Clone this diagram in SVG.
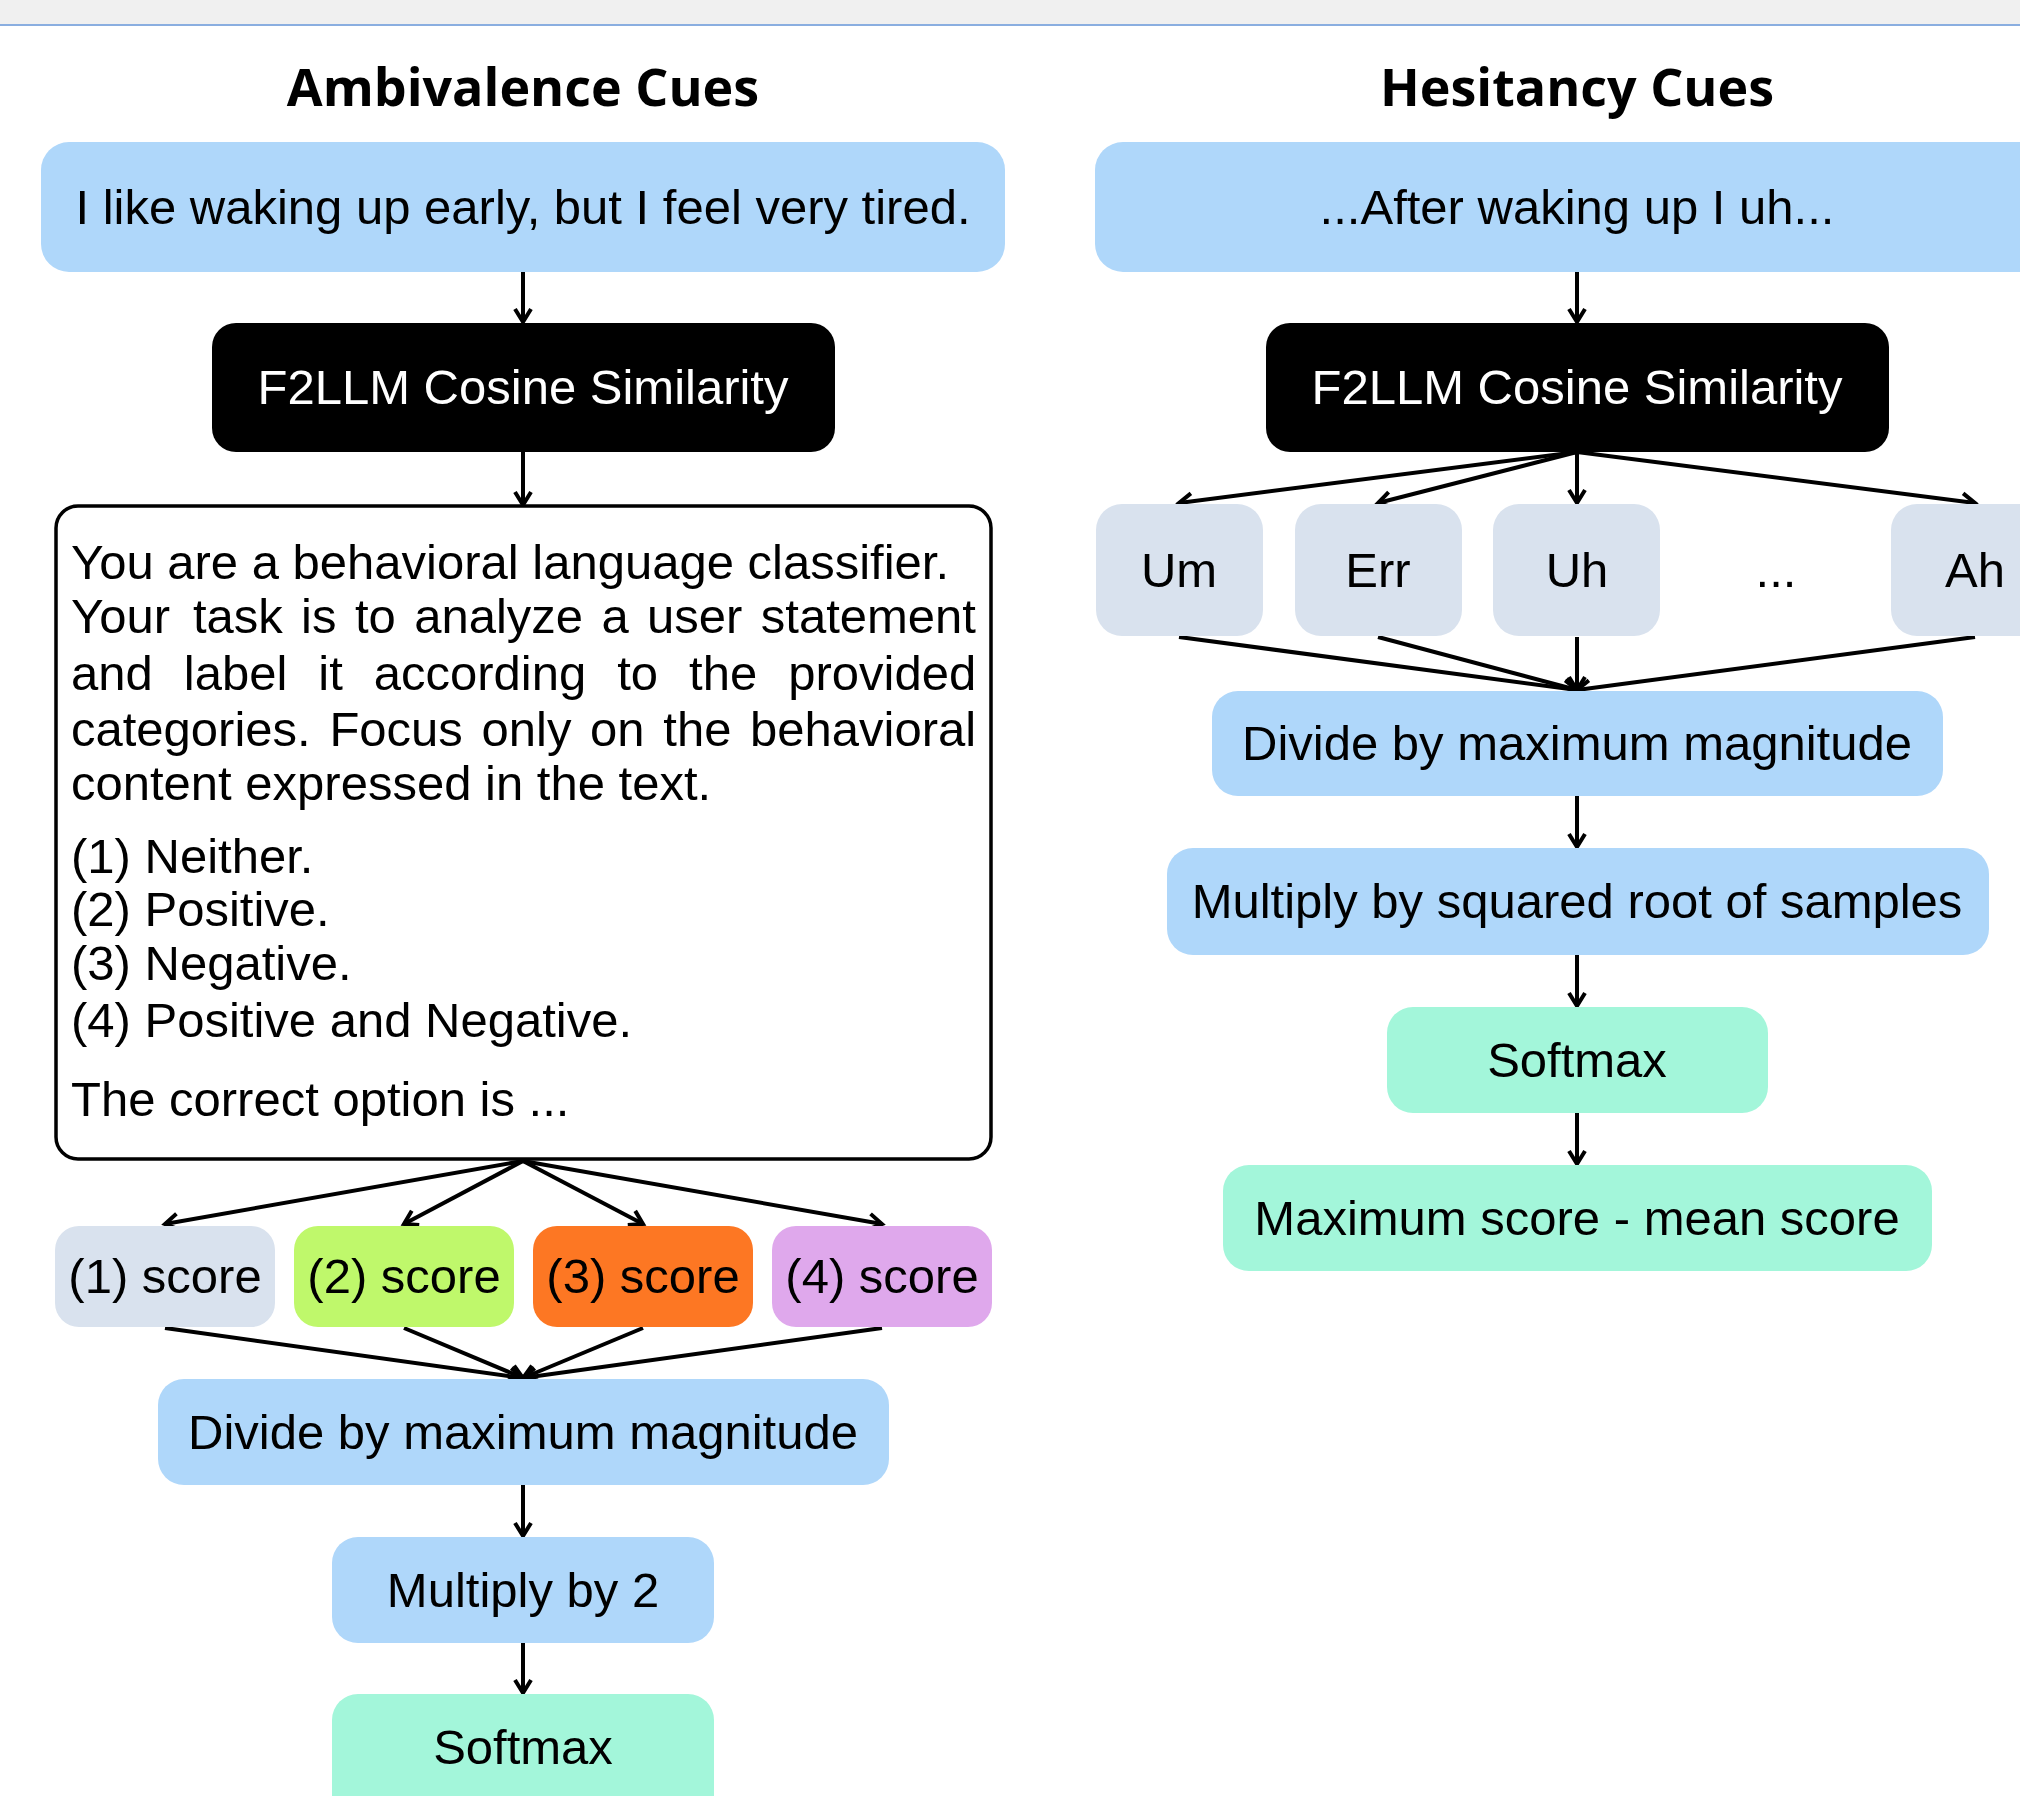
<svg xmlns="http://www.w3.org/2000/svg" width="2020" height="1796" viewBox="0 0 2020 1796">
<defs>
<style>
.t{font-family:"Liberation Sans",Arial,sans-serif;font-size:49px;fill:#000}
.c{text-anchor:middle}
.w{fill:#fff}
.h{font-family:"Open Sans","Noto Sans",sans-serif;font-weight:700;font-size:52px;text-anchor:middle;fill:#000}
.blue{fill:#afd7fa}
.gray{fill:#d9e2ee}
.mint{fill:#a3f6da}
.blk{fill:#000}
.edge{stroke:#000;stroke-width:4;fill:none}
</style>
<marker id="ah" viewBox="-18 -12 24 24" refX="0" refY="0" markerWidth="24" markerHeight="24" markerUnits="userSpaceOnUse" orient="auto">
<path d="M-13,-8 L0,0 L-13,8" fill="none" stroke="#000" stroke-width="4"/>
</marker>
</defs>
<rect x="0" y="0" width="2020" height="1796" fill="#fff"/>
<rect x="0" y="0" width="2020" height="24" fill="#f0f0f0"/>
<line x1="0" y1="25" x2="2020" y2="25" stroke="#8aaee0" stroke-width="2"/>

<text class="h" x="523" y="106">Ambivalence Cues</text>
<text class="h" x="1577" y="106">Hesitancy Cues</text>

<g id="connectors">
<g class="edge" marker-end="url(#ah)">
<line x1="523" y1="272" x2="523" y2="322"/>
<line x1="523" y1="452" x2="523" y2="505"/>
<line x1="523" y1="1161" x2="165" y2="1224"/>
<line x1="523" y1="1161" x2="404" y2="1224"/>
<line x1="523" y1="1161" x2="643" y2="1224"/>
<line x1="523" y1="1161" x2="882" y2="1224"/>
<line x1="165" y1="1328" x2="523" y2="1378"/>
<line x1="404" y1="1328" x2="523" y2="1378"/>
<line x1="643" y1="1328" x2="523" y2="1378"/>
<line x1="882" y1="1328" x2="523" y2="1378"/>
<line x1="523" y1="1485" x2="523" y2="1536"/>
<line x1="523" y1="1643" x2="523" y2="1693"/>
<line x1="1577" y1="272" x2="1577" y2="322"/>
<line x1="1577" y1="452" x2="1179" y2="503"/>
<line x1="1577" y1="452" x2="1378" y2="503"/>
<line x1="1577" y1="452" x2="1577" y2="503"/>
<line x1="1577" y1="452" x2="1975" y2="503"/>
<line x1="1179" y1="637" x2="1577" y2="690"/>
<line x1="1378" y1="637" x2="1577" y2="690"/>
<line x1="1577" y1="637" x2="1577" y2="690"/>
<line x1="1975" y1="637" x2="1577" y2="690"/>
<line x1="1577" y1="796" x2="1577" y2="847"/>
<line x1="1577" y1="955" x2="1577" y2="1006"/>
<line x1="1577" y1="1113" x2="1577" y2="1164"/>
</g>
</g>

<g id="amb-input"><rect class="blue" x="41" y="142" width="964" height="130" rx="28"/><text class="t c" x="523" y="224">I like waking up early, but I feel very tired.</text></g>
<g id="amb-f2llm"><rect class="blk" x="212" y="323" width="623" height="129" rx="24"/><text class="t c w" x="523" y="404">F2LLM Cosine Similarity</text></g>
<g id="amb-prompt">
<rect x="56" y="506" width="935" height="653" rx="22" fill="#fff" stroke="#000" stroke-width="3.5"/>
<text class="t" x="71" y="579">You are a behavioral language classifier.</text>
<text class="t" y="633"><tspan x="71">Your</tspan><tspan x="192.9">task</tspan><tspan x="301.1">is</tspan><tspan x="354.9">to</tspan><tspan x="414.2">analyze</tspan><tspan x="601.5">a</tspan><tspan x="647.1">user</tspan><tspan x="760.8">statement</tspan></text>
<text class="t" y="690"><tspan x="71">and</tspan><tspan x="183.8">label</tspan><tspan x="318.3">it</tspan><tspan x="373.8">according</tspan><tspan x="617.2">to</tspan><tspan x="689.1">the</tspan><tspan x="788.2">provided</tspan></text>
<text class="t" y="746"><tspan x="71">categories.</tspan><tspan x="329.4">Focus</tspan><tspan x="481.5">only</tspan><tspan x="590.1">on</tspan><tspan x="663.3">the</tspan><tspan x="750.1">behavioral</tspan></text>
<text class="t" x="71" y="800">content expressed in the text.</text>
<text class="t" x="71" y="873">(1) Neither.</text>
<text class="t" x="71" y="926">(2) Positive.</text>
<text class="t" x="71" y="980">(3) Negative.</text>
<text class="t" x="71" y="1037">(4) Positive and Negative.</text>
<text class="t" x="71" y="1116">The correct option is ...</text>
</g>
<g id="score1"><rect class="gray" x="55" y="1226" width="220" height="101" rx="24"/><text class="t c" x="165" y="1293">(1) score</text></g>
<g id="score2"><rect x="294" y="1226" width="220" height="101" rx="24" fill="#bff86b"/><text class="t c" x="404" y="1293">(2) score</text></g>
<g id="score3"><rect x="533" y="1226" width="220" height="101" rx="24" fill="#fd7723"/><text class="t c" x="643" y="1293">(3) score</text></g>
<g id="score4"><rect x="772" y="1226" width="220" height="101" rx="24" fill="#dfa8ec"/><text class="t c" x="882" y="1293">(4) score</text></g>
<g id="amb-divide"><rect class="blue" x="158" y="1379" width="731" height="106" rx="26"/><text class="t c" x="523" y="1449">Divide by maximum magnitude</text></g>
<g id="amb-mult"><rect class="blue" x="332" y="1537" width="382" height="106" rx="26"/><text class="t c" x="523" y="1607">Multiply by 2</text></g>
<g id="amb-softmax"><rect class="mint" x="332" y="1694" width="382" height="130" rx="26"/><text class="t c" x="523" y="1764">Softmax</text></g>

<g id="hes-input"><rect class="blue" x="1095" y="142" width="964" height="130" rx="28"/><text class="t c" x="1577" y="224">...After waking up I uh...</text></g>
<g id="hes-f2llm"><rect class="blk" x="1266" y="323" width="623" height="129" rx="24"/><text class="t c w" x="1577" y="404">F2LLM Cosine Similarity</text></g>
<g id="um"><rect class="gray" x="1096" y="504" width="167" height="132" rx="26"/><text class="t c" x="1179" y="587">Um</text></g>
<g id="err"><rect class="gray" x="1295" y="504" width="167" height="132" rx="26"/><text class="t c" x="1378" y="587">Err</text></g>
<g id="uh"><rect class="gray" x="1493" y="504" width="167" height="132" rx="26"/><text class="t c" x="1577" y="587">Uh</text></g>
<g id="ellipsis"><text class="t c" x="1776" y="587">...</text></g>
<g id="ah-node"><rect class="gray" x="1891" y="504" width="167" height="132" rx="26"/><text class="t c" x="1975" y="587">Ah</text></g>
<g id="hes-divide"><rect class="blue" x="1212" y="691" width="731" height="105" rx="26"/><text class="t c" x="1577" y="760">Divide by maximum magnitude</text></g>
<g id="hes-mult"><rect class="blue" x="1167" y="848" width="822" height="107" rx="26"/><text class="t c" x="1577" y="918">Multiply by squared root of samples</text></g>
<g id="hes-softmax"><rect class="mint" x="1387" y="1007" width="381" height="106" rx="26"/><text class="t c" x="1577" y="1077">Softmax</text></g>
<g id="hes-max"><rect class="mint" x="1223" y="1165" width="709" height="106" rx="26"/><text class="t c" x="1577" y="1235">Maximum score - mean score</text></g>
</svg>
